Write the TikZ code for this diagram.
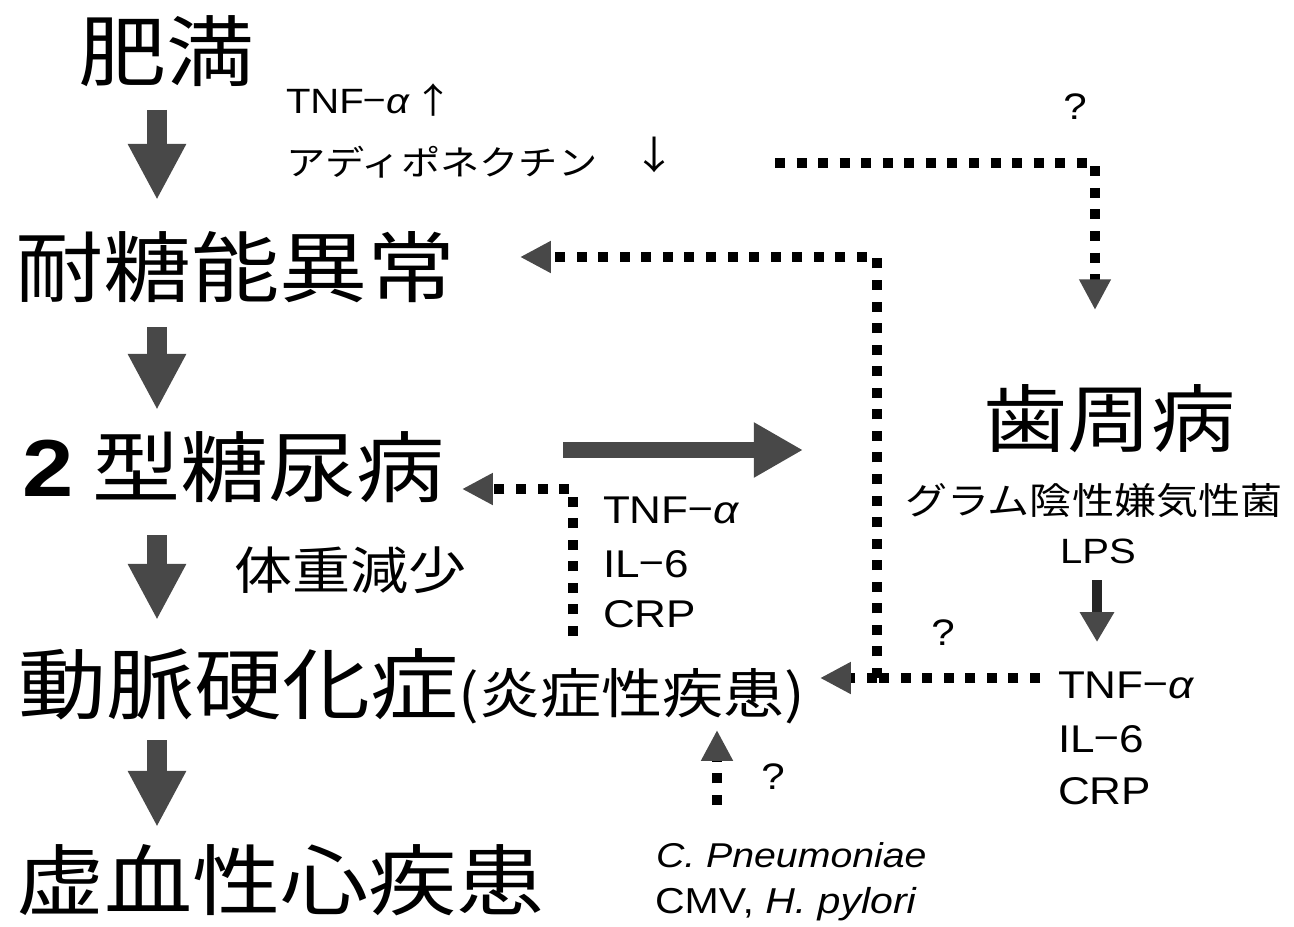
\documentclass[tikz,border=0pt]{standalone}
\usepackage{fontspec}
\setmainfont{Liberation Sans}[FakeStretch=1.14]
\newfontfamily\jp{Noto Sans CJK JP}[FakeStretch=1.14]
\usetikzlibrary{arrows.meta}
\definecolor{agray}{RGB}{72,72,72}
\begin{document}
\begin{tikzpicture}[x=0.02cm,y=-0.02cm,
  lbl/.style={inner sep=0pt,outer sep=0pt,anchor=base west},
  bigjp/.style={lbl,font=\jp\fontsize{44}{44}\selectfont},
  midjp/.style={lbl,font=\jp\fontsize{29}{29}\selectfont},
  cyto/.style={lbl,font=\fontsize{22}{22}\selectfont},
  qm/.style={inner sep=0pt,font=\fontsize{21}{21}\selectfont},
  bigarrow/.style={draw=agray,line width=11.3pt,-{Triangle[length=32pt,width=31pt,color=agray]}},
  dotline/.style={draw=black,line width=5.67pt,dash pattern=on 5.67pt off 6.6pt},
  dotarrow/.style={dotline,-{Triangle[length=17.5pt,width=17pt,color=agray]}}]
\fill[white] (0,0) rectangle (1294,926);
\useasboundingbox (0,0) rectangle (1294,926);

% left column
\node[bigjp] (obes) at (78,81) {肥満};
\node[bigjp] (igt) at (15,296) {耐糖能異常};
\node[lbl] (t2d) at (22,496) {{\fontsize{46}{46}\selectfont\bfseries 2}\hspace{11pt}{\jp\fontsize{44}{44}\selectfont 型糖尿病}};
\node[lbl] (athero) at (18,713) {{\jp\fontsize{44}{44}\selectfont 動脈硬化症}{\jp\fontsize{30.5}{30.5}\selectfont (炎症性疾患)}};
\node[bigjp] (ihd) at (16,909) {虚血性心疾患};
\node[midjp] (wl) at (234,589) {体重減少};

% top labels
\node[lbl,font=\fontsize{20}{20}\selectfont] (tnftop) at (286,113) {TNF{\jp −}\textit{α}\hspace{2pt}{\jp ↑}};
\node[lbl,font=\jp\fontsize{19.6}{19.6}\selectfont] (adipo) at (286,175) {アディポネクチン};
\node[inner sep=0pt,font=\jp\fontsize{22}{22}\selectfont] (down) at (655,155) {↓};

% periodontal
\node[lbl,font=\jp\fontsize{42}{42}\selectfont] (perio) at (983,446) {歯周病};
\node[lbl,font=\jp\fontsize{21}{21}\selectfont] (gram) at (905,514) {グラム陰性嫌気性菌};
\node[lbl,font=\fontsize{20}{20}\selectfont] (lps) at (1060,563) {LPS};

% cytokines middle
\node[cyto] (mtnf) at (603,523) {TNF{\jp −}\textit{α}};
\node[cyto] (mil) at (603,577) {IL{\jp −}6};
\node[cyto] (mcrp) at (603,627) {CRP};
% cytokines right
\node[cyto] (rtnf) at (1058,698) {TNF{\jp −}\textit{α}};
\node[cyto] (ril) at (1058,752) {IL{\jp −}6};
\node[cyto] (rcrp) at (1058,804) {CRP};

% pathogens
\node[lbl,font=\fontsize{19.6}{19.6}\selectfont] (cpn) at (656,867) {\textit{C. Pneumoniae}};
\node[lbl,font=\fontsize{20.5}{20.5}\selectfont] (cmv) at (655,913) {CMV, \textit{H. pylori}};

% question marks
\node[qm] (q1) at (1075,107) {?};
\node[qm] (q2) at (943,633) {?};
\node[qm] (q3) at (773,777) {?};

% big arrows left column
\coordinate (a1s) at (157,110); \coordinate (a1e) at (157,200);
\coordinate (a2s) at (157,327); \coordinate (a2e) at (157,410);
\coordinate (a3s) at (157,535); \coordinate (a3e) at (157,620);
\coordinate (a4s) at (157,740); \coordinate (a4e) at (157,827);
\draw[bigarrow] (a1s) -- (a1e);
\draw[bigarrow] (a2s) -- (a2e);
\draw[bigarrow] (a3s) -- (a3e);
\draw[bigarrow] (a4s) -- (a4e);

% big horizontal arrow t2d -> perio
\coordinate (hs) at (563,450); \coordinate (he) at (803,450);
\draw[draw=agray,line width=9pt,-{Triangle[length=28pt,width=29.5pt,color=agray]}] (hs) -- (he);

% small solid arrow LPS -> cytokines
\coordinate (ls) at (1097,580); \coordinate (le) at (1097,642);
\draw[draw=black!85,line width=5.7pt,-{Triangle[length=17pt,width=18.5pt,color=agray]}] (ls) -- (le);

% dotted connectors
\coordinate (adEnd) at (775,163);
\coordinate (perioTip) at (1095,310);
\draw[dotarrow] (adEnd) -| (perioTip);

\coordinate (J) at (877,678);
\coordinate (rStart) at (1040,678);
\coordinate (athTip) at (820,678);
\coordinate (igtTip) at (520,257);
\draw[dotline] (rStart) -- (J);
\draw[dotarrow] (J) -- (athTip);
\draw[dotarrow] (J) |- (igtTip);

\coordinate (mStart) at (573,636);
\coordinate (t2dTip) at (462,489);
\draw[dotarrow] (mStart) |- (t2dTip);

\coordinate (infStart) at (717,805);
\coordinate (athBot) at (717,730);
\draw[dotarrow] (infStart) -- (athBot);
\end{tikzpicture}
\end{document}
